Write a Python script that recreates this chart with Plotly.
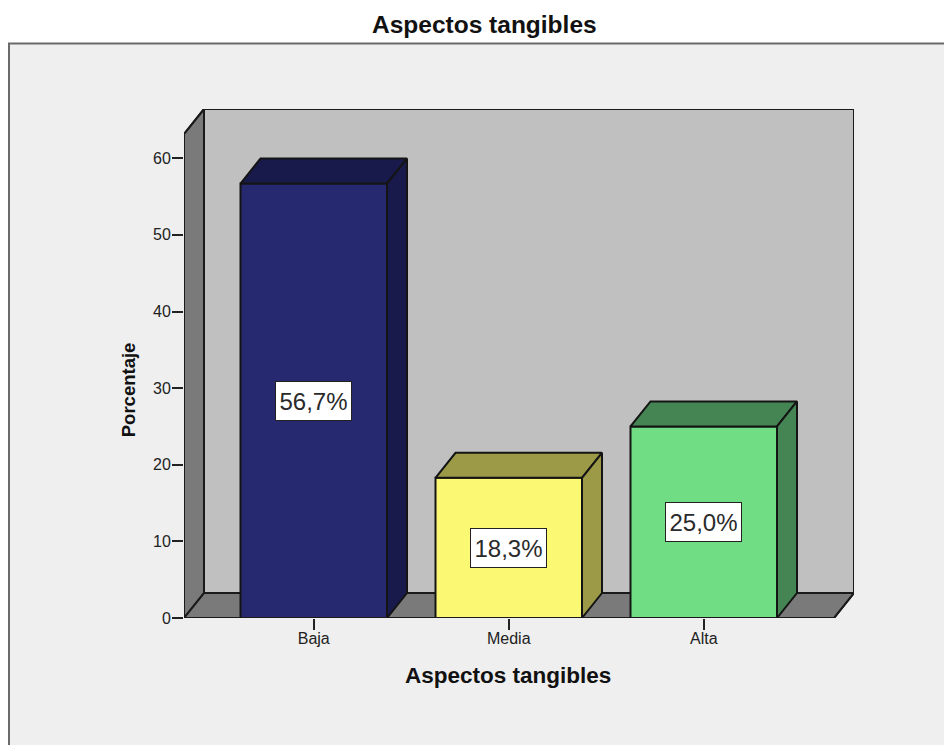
import plotly.graph_objects as go

# Survey results
categories = ["Baja", "Media", "Alta"]
percentages = [56.7, 18.3, 25.0]
value_labels = ["56,7%", "18,3%", "25,0%"]
y_ticks = [0, 10, 20, 30, 40, 50, 60]

front_colors = ["#26296F", "#FBF873", "#70DD85"]
shade_colors = ["#181A4C", "#9C9A47", "#458553"]

WIDTH, HEIGHT = 944, 745
PLOT_L, PLOT_R, PLOT_T, PLOT_B = 184, 854, 108.5, 618
PX_PER_CATEGORY = 195.0
PX_PER_PERCENT = 7.67
FIRST_CENTER = 313.75

# Oblique depth of the 3D box, in axis units
DX = 20 / PX_PER_CATEGORY
DY = 25 / PX_PER_PERCENT
BAR_W = 146.5 / PX_PER_CATEGORY

x_min = (PLOT_L - FIRST_CENTER) / PX_PER_CATEGORY
x_max = (PLOT_R - FIRST_CENTER) / PX_PER_CATEGORY
y_max = (PLOT_B - PLOT_T) / PX_PER_PERCENT
x_front_right = x_max - DX
y_front_top = y_max - DY
positions = list(range(len(categories)))

EDGE = "#1A1A1A"


def paper_x(px):
    return (px - PLOT_L) / (PLOT_R - PLOT_L)


def paper_y(px):
    return (PLOT_B - px) / (PLOT_B - PLOT_T)


def polygon(xs, ys, fill):
    path = "M " + " L ".join(f"{a},{b}" for a, b in zip(xs, ys)) + " Z"
    return dict(type="path", path=path, xref="x", yref="y", fillcolor=fill,
                line=dict(color=EDGE, width=2), layer="below")


fig = go.Figure()

# Front faces
fig.add_trace(go.Bar(
    x=positions, y=percentages, width=BAR_W, marker_color=front_colors,
    marker_line=dict(color="#141414", width=2), hoverinfo="skip", showlegend=False,
))

# Outer silhouette of the box, drawn unclipped so the edge keeps its full width
fig.add_trace(go.Scatter(
    x=[x_min, x_front_right, x_max, x_max, x_min + DX, x_min, x_min],
    y=[0, 0, DY, y_max, y_max, y_front_top, 0],
    mode="lines", line=dict(color=EDGE, width=2), hoverinfo="skip",
    showlegend=False, cliponaxis=False,
))

# Top and side faces derived from each bar's value
for pos, val, shade in zip(positions, percentages, shade_colors):
    l, r = pos - BAR_W / 2, pos + BAR_W / 2
    fig.add_trace(go.Scatter(
        x=[l, r, r + DX, l + DX, l], y=[val, val, val + DY, val + DY, val],
        mode="lines", fill="toself", fillcolor=shade,
        line=dict(color="#141414", width=2), hoverinfo="skip",
        showlegend=False, cliponaxis=False,
    ))
    fig.add_trace(go.Scatter(
        x=[r, r + DX, r + DX, r, r], y=[0, DY, val + DY, val, 0],
        mode="lines", fill="toself", fillcolor=shade,
        line=dict(color="#141414", width=2), hoverinfo="skip",
        showlegend=False, cliponaxis=False,
    ))

# Panel behind the chart and the box walls
shapes = [
    dict(type="rect", xref="paper", yref="paper",
         x0=paper_x(9), x1=paper_x(WIDTH + 20),
         y0=paper_y(HEIGHT + 20), y1=paper_y(43),
         fillcolor="#EFEFEF", line=dict(color="#6A6A6A", width=2), layer="below"),
    polygon([x_min + DX, x_max, x_max, x_min + DX], [DY, DY, y_max, y_max], "#C0C0C0"),
    polygon([x_min, x_min + DX, x_min + DX, x_min], [0, DY, y_max, y_front_top], "#7A7A7A"),
    polygon([x_min, x_front_right, x_max, x_min + DX], [0, 0, DY, DY], "#7A7A7A"),
]

annotations = []
for pos, val, text in zip(positions, percentages, value_labels):
    annotations.append(dict(
        x=pos, y=val / 2, text=text, showarrow=False, xref="x", yref="y",
        font=dict(family="Liberation Sans", size=24, color="#2A2A2A"),
        bgcolor="#FFFFFF", bordercolor="#222222", borderwidth=1, width=73, height=36,
    ))

bold = "Liberation Sans"
annotations += [
    dict(text="<b>Aspectos tangibles</b>", xref="paper", yref="paper",
         x=paper_x(484), y=paper_y(24), xanchor="center", yanchor="middle",
         showarrow=False, font=dict(family=bold, size=24.5, color="#111111")),
    dict(text="<b>Aspectos tangibles</b>", xref="paper", yref="paper",
         x=paper_x(508), y=paper_y(676), xanchor="center", yanchor="middle",
         showarrow=False, font=dict(family=bold, size=22.5, color="#111111")),
    dict(text="<b>Porcentaje</b>", xref="paper", yref="paper", textangle=-90,
         x=paper_x(128), y=paper_y(390), xanchor="center", yanchor="middle",
         showarrow=False, font=dict(family=bold, size=18.5, color="#111111")),
]

fig.update_layout(
    width=WIDTH, height=HEIGHT, autosize=False,
    margin=dict(l=PLOT_L, r=WIDTH - PLOT_R, t=PLOT_T, b=HEIGHT - PLOT_B, pad=0),
    paper_bgcolor="#FFFFFF", plot_bgcolor="rgba(0,0,0,0)",
    shapes=shapes, annotations=annotations, showlegend=False,
    xaxis=dict(range=[x_min, x_max], tickvals=positions, ticktext=categories,
               ticks="outside", ticklen=11, tickwidth=1.5, tickcolor="#222222",
               ticklabelstandoff=-5, showgrid=False, zeroline=False, showline=False,
               tickfont=dict(family="Liberation Sans", size=16, color="#222222")),
    yaxis=dict(range=[0, y_max], tickvals=y_ticks, ticks="outside", ticklen=11,
               tickwidth=1.5, tickcolor="#222222", ticklabelstandoff=-2,
               showgrid=False, zeroline=False, showline=False,
               tickfont=dict(family="Liberation Sans", size=16, color="#222222")),
)

fig.write_html("out.html")
